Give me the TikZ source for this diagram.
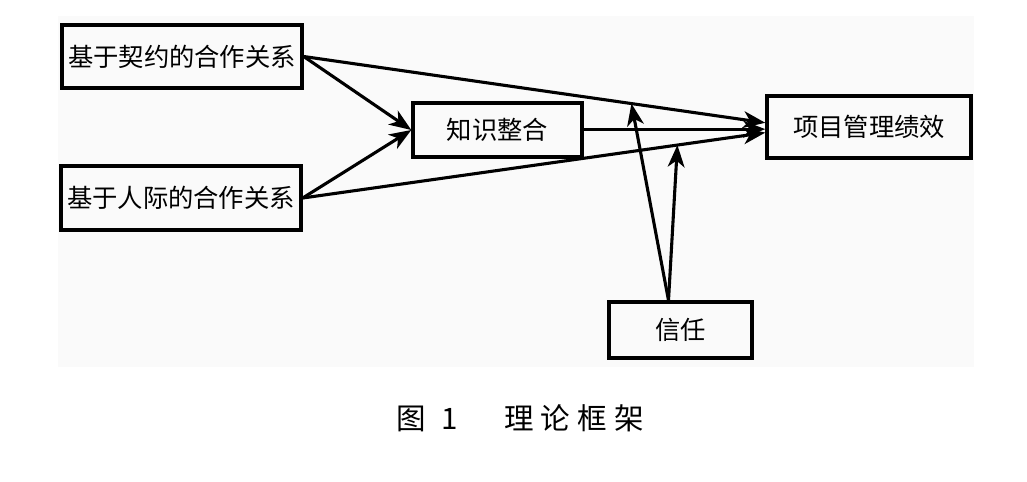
\documentclass[tikz,border=0pt]{standalone}
\usepackage{fontspec}
\setmainfont{Noto Sans CJK SC}
\usetikzlibrary{arrows.meta}

\begin{document}
\begin{tikzpicture}[
  x=0.025cm, y=-0.025cm,
  box/.style={draw, line width=2.4pt, font=\fontsize{18}{20}\selectfont, inner sep=0pt},
  arr/.style={line width=2.2pt, -{Stealth[length=5.5mm, width=4.2mm, inset=1.6mm]}},
  caption/.style={font=\fontsize{21}{24}\selectfont}
]

\useasboundingbox (0,0) rectangle (1027,481);
\fill[black!2] (58,16) rectangle (974,367);

\node[box, minimum width=6cm, minimum height=1.575cm] (contract) at (182,56.5) {基于契约的合作关系};
\node[box, minimum width=6cm, minimum height=1.6cm] (personal) at (181,198) {基于人际的合作关系};
\node[box, minimum width=4.225cm, minimum height=1.35cm] (knowledge) at (497.5,130) {知识整合};
\node[box, minimum width=5.1cm, minimum height=1.55cm] (perf) at (869,127) {项目管理绩效};
\node[box, minimum width=3.575cm, minimum height=1.4cm] (trust) at (680.5,330) {信任};

% paths into knowledge integration
\draw[arr] (contract.east) -- (knowledge.west);
\draw[arr] (personal.east) -- (knowledge.west);

% paths into performance
\draw[arr] (contract.east) -- coordinate[pos=0.71] (modtop) ([yshift=3pt]perf.west);
\draw[arr] ([yshift=0.6pt]knowledge.east) -- ([yshift=0.6pt]knowledge.east -| perf.west);
\draw[arr] (personal.east) -- coordinate[pos=0.81] (modbot) ([yshift=-4pt]perf.west);

% moderation by trust
\draw[arr] ([xshift=-0.3cm]trust.north) -- (modtop);
\draw[arr] ([xshift=-0.3cm]trust.north) -- (modbot);

\node[caption] (cap) at (520,418) {图\hspace{0.4cm}1\hspace{1.15cm}理\hspace{0.18cm}论\hspace{0.18cm}框\hspace{0.18cm}架};
\end{tikzpicture}
\end{document}
